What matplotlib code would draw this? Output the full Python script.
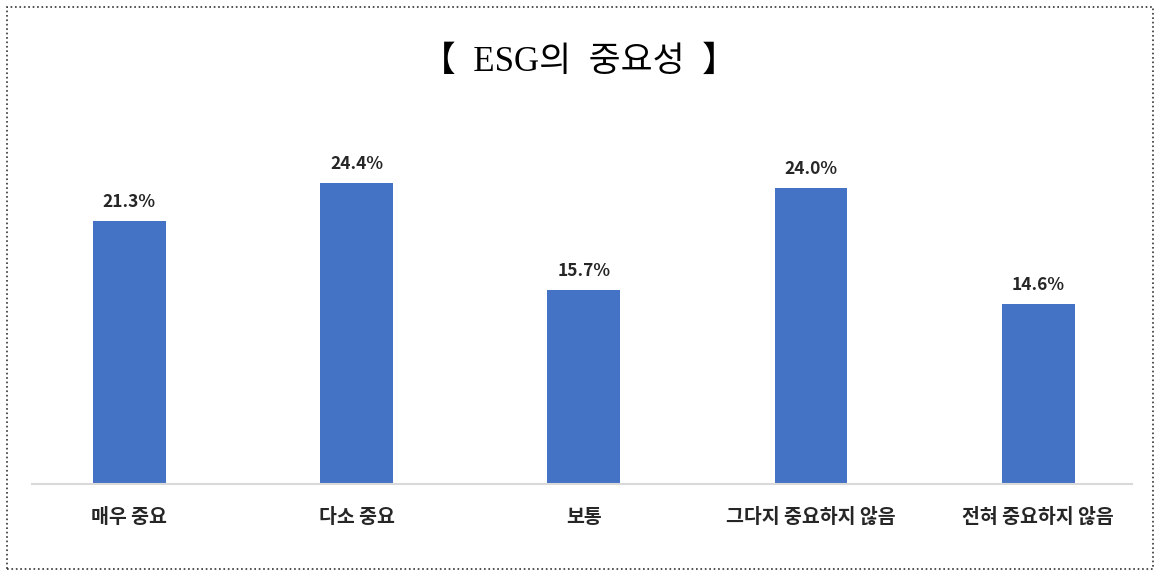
import matplotlib.pyplot as plt
from matplotlib.patches import Rectangle

categories = ['매우 중요', '다소 중요', '보통', '그다지 중요하지 않음', '전혀 중요하지 않음']
values = [21.3, 24.4, 15.7, 24.0, 14.6]

plt.rcParams['font.family'] = ['Noto Sans CJK KR', 'DejaVu Sans']

fig = plt.figure(figsize=(11.56, 5.71), dpi=100)
W, H = 1156, 571
ax = fig.add_axes([32 / W, (H - 484) / H, (1132 - 32) / W, (484 - 130) / H])

x = range(len(categories))
bars = ax.bar(x, values, width=0.32, color='#4472C4')
for b, v in zip(bars, values):
    ax.text(b.get_x() + b.get_width() / 2, v + 0.8, f'{v:.1f}%', ha='center', va='bottom',
            fontsize=12.5, fontweight='bold', color='#262626')

ax.set_xlim(-0.428, 4.413)
ax.set_ylim(0, 28.7)
ax.set_xticks(list(x))
ax.set_xticklabels(categories, fontsize=14, fontweight='bold', color='#262626')
ax.tick_params(axis='x', length=0, pad=17)
ax.set_yticks([])
for s in ['top', 'right', 'left']:
    ax.spines[s].set_visible(False)
ax.spines['bottom'].set_color('#D9D9D9')
ax.spines['bottom'].set_linewidth(1.5)

fig.text(579 / W, 1 - 62 / H, '【  ESG의  중요성  】', ha='center', va='center', fontsize=25,
         family=['Liberation Serif', 'Noto Sans CJK KR'])

# dotted frame around the chart
fig.patches.append(Rectangle((7 / W, 2 / H), (1153 - 7) / W, (564 - 2) / H, transform=fig.transFigure,
                             fill=False, linestyle=':', linewidth=1.2, edgecolor='#333333'))

fig.savefig('out.png', dpi=100)
